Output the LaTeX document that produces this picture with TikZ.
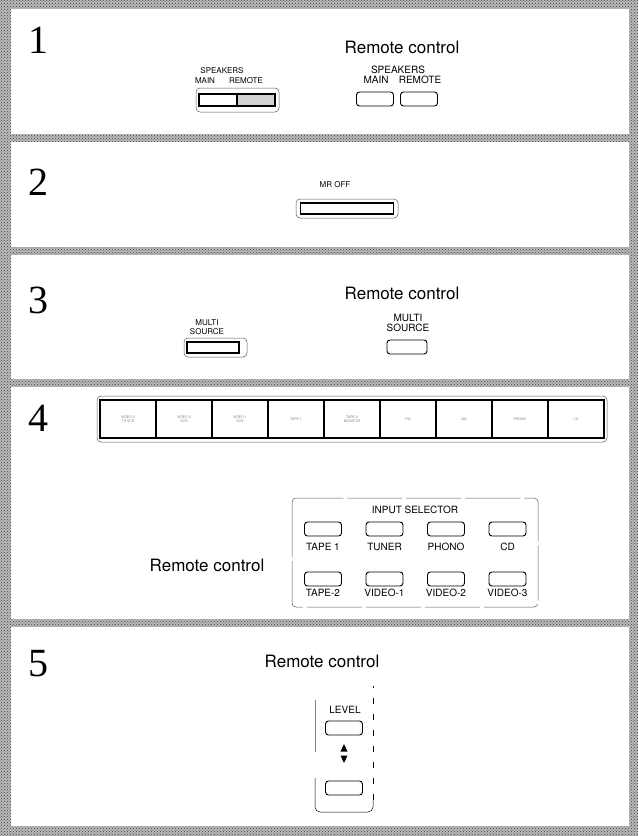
\documentclass[tikz,border=0pt]{standalone}
\usepackage{fontspec}
\setmainfont{TeX Gyre Heros}
\newfontfamily\numfont{Liberation Serif}
\usetikzlibrary{positioning, patterns}

\begin{document}
\begin{tikzpicture}[x=1pt, y=-1pt,
    every node/.style = {inner sep=0pt, outer sep=0pt},
    band/.style       = {fill=gray!55, postaction={pattern=crosshatch dots, pattern color=black!75}},
    pane/.style       = {fill=white},
    numtxt/.style     = {font=\numfont\fontsize{40}{40}\selectfont},
    rctxt/.style      = {font=\fontsize{17}{17}\selectfont},
    paneltxt/.style   = {font=\fontsize{8}{9}\selectfont, align=center},
    remtxt/.style     = {font=\fontsize{10}{10.5}\selectfont, align=center},
    celltxt/.style    = {font=\fontsize{3.5}{4}\selectfont, align=center, text=gray},
    rbtn/.style       = {draw, line width=0.9pt, rounded corners=3pt, minimum width=37pt, minimum height=14pt},
    sbtn/.style       = {draw, line width=1.6pt, minimum height=12pt},
    cell/.style       = {draw, line width=1.8pt, minimum width=56pt, minimum height=38pt},
    rim/.style        = {draw=gray!70!black, line width=0.5pt, rounded corners=4pt}
    ]
      % frame ----------------------------------------------------
      \fill[band] (0,0) rectangle (638,836);
      \foreach \t/\b in {9/134, 142/247, 255/379, 387/619, 627/826}
        \fill[pane] (11,\t) rectangle (629,\b);

      \node[numtxt] (n1) at (38,40)  {1};
      \node[numtxt] (n2) at (38,182) {2};
      \node[numtxt] (n3) at (38,300) {3};
      \node[numtxt] (n4) at (38,418) {4};
      \node[numtxt] (n5) at (38,664) {5};

      % 1: speakers ----------------------------------------------
      \node[paneltxt] (spkL)  at (222,71) {SPEAKERS};
      \node[paneltxt] (mainL) at (205,81) {MAIN};
      \node[paneltxt] (remL)  at (246,81) {REMOTE};
      \draw[rim] (196,88) rectangle (279,112);
      \node[sbtn, minimum width=38pt, fill=white]   (swMain) at (218,100) {};
      \node[sbtn, minimum width=38pt, fill=gray!35] (swRem)  at (256,100) {};

      \node[rctxt]  (rc1)   at (402,47) {Remote control};
      \node[remtxt] (spkR)  at (398,70) {SPEAKERS};
      \node[remtxt] (mainR) at (376,80) {MAIN};
      \node[remtxt] (remR)  at (420,80) {REMOTE};
      \node[rbtn] (bMain) at (375,99) {};
      \node[rbtn] (bRem)  at (419,99) {};

      % 2: mr off ------------------------------------------------
      \node[paneltxt] (mroff) at (335,185) {MR OFF};
      \draw[rim] (296,199) rectangle (398,218);
      \node[sbtn, minimum width=93pt, minimum height=11pt] (swMr) at (347,208.5) {};

      % 3: multi source ------------------------------------------
      \node[rctxt]    (rc3) at (402,293) {Remote control};
      \node[paneltxt] (msL) at (207,327) {MULTI\\SOURCE};
      \draw[rim] (184,338) rectangle (247,357);
      \node[sbtn, minimum width=52pt, minimum height=11pt] (swMs) at (213,347.5) {};
      \node[remtxt] (msR) at (408,323) {MULTI\\SOURCE};
      \node[rbtn, minimum width=40pt] (bMs) at (407,347) {};

      % 4: input selector ----------------------------------------
      \draw[rim] (97,396) rectangle (607,442);
      \foreach \lab [count=\i] in {{VIDEO 3\\TV VCR}, {VIDEO 2\\VCR}, {VIDEO 1\\VCR},
                                   TAPE 1, {TAPE 2\\MONITOR}, FM, AM, PHONO, CD}
        \node[cell, celltxt] (sel\i) at ({100+56*(\i-0.5)},419) {\lab};

      \node[rctxt] (rc4) at (207,565) {Remote control};
      \draw[rim, dash pattern=on 55pt off 4pt] (292,498) rectangle (538,607);
      \node[remtxt] (insel) at (415,510) {INPUT SELECTOR};
      \foreach \lab/\nm [count=\i] in {TAPE 1/tapeA, TUNER/tuner, PHONO/phono, CD/cd} {
        \node[rbtn] (\nm) at ({323+61.5*(\i-1)},529) {};
        \node[remtxt, below=7pt of \nm] (\nm-l) {\lab};
      }
      \foreach \lab/\nm [count=\i] in {TAPE-2/tapeB, VIDEO-1/vidA, VIDEO-2/vidB, VIDEO-3/vidC} {
        \node[rbtn] (\nm) at ({323+61.5*(\i-1)},579) {};
        \node[remtxt, below=3pt of \nm] (\nm-l) {\lab};
      }

      % 5: level -------------------------------------------------
      \node[rctxt]  (rc5) at (322,661) {Remote control};
      \draw[gray, line width=0.5pt] (315,700) -- (315,752);
      \draw[line width=0.5pt, rounded corners=5pt] (315,778) -- (315,812) -- (373,812) -- (373,800);
      \draw[line width=0.5pt, dash pattern=on 6pt off 10pt] (373,800) -- (373,686);
      \node[remtxt] (lvl) at (345,710) {LEVEL};
      \node[rbtn] (lvUp) at (344,728) {};
      \node[rbtn] (lvDn) at (344,788) {};
      \fill (344,744) -- (340.5,751.5) -- (347.5,751.5) -- cycle;
      \fill (344,763) -- (340.5,755.5) -- (347.5,755.5) -- cycle;
\end{tikzpicture}
\end{document}
